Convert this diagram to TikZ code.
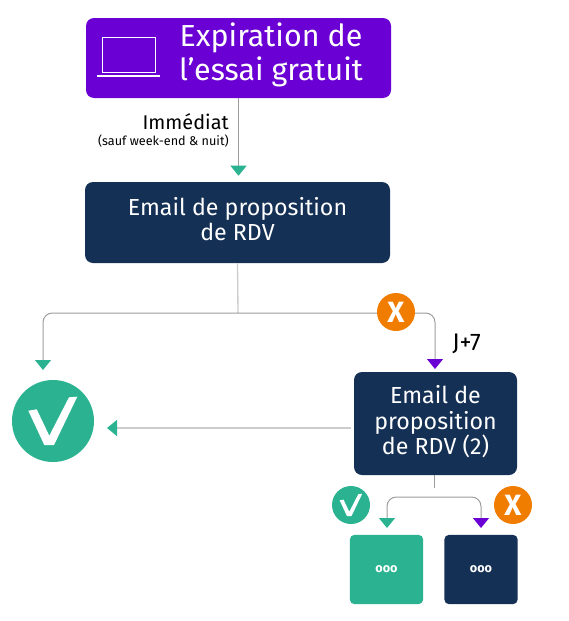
\documentclass[tikz,border=0pt]{standalone}
\usepackage{xcolor}
\usepackage{fontspec}
\setmainfont{Fira Sans}
\usetikzlibrary{arrows.meta, positioning}
\definecolor{essaipurple}{HTML}{6A00D4}
\definecolor{essainavy}{HTML}{153055}
\definecolor{essaigreen}{HTML}{2BB391}
\definecolor{essaiorange}{HTML}{F07D00}
\definecolor{essaigrey}{HTML}{9C9C9C}
\definecolor{essailight}{HTML}{CCCCCC}

\begin{document}
\begin{tikzpicture}[x=0.75pt, y=-0.75pt,
  boxtxt/.style={align=center, text=white, inner sep=0pt},
  box/.style={rounded corners=6pt, boxtxt, font=\fontsize{17.4}{19}\selectfont},
  title/.style={box, fill=essaipurple, minimum width=228.75pt, minimum height=60pt},
  mail/.style={box, fill=essainavy, minimum width=228.75pt, minimum height=60.75pt, text depth=5pt},
  mailb/.style={box, fill=essainavy, minimum width=122.25pt, minimum height=77.25pt, text depth=5pt},
  endbox/.style={rounded corners=3.5pt, boxtxt, minimum width=55pt, minimum height=52pt, font=\bfseries\fontsize{9.5}{9.5}\selectfont},
  badge/.style={circle, fill=essaiorange, boxtxt, minimum size=28.5pt, font=\bfseries\fontsize{22}{22}\selectfont},
  okdisc/.style={circle, fill=essaigreen, inner sep=0pt},
  lab/.style={inner sep=0pt, align=right},
  tog/.style={-{Triangle[width=12pt, length=7.5pt, color=essaigreen]}},
  top/.style={-{Triangle[width=12pt, length=7.5pt, color=essaipurple]}},
  wire/.style={draw=essaigrey, line width=0.75pt},
  wirel/.style={draw=essailight, line width=1pt},
  okmark/.pic={\fill[white] (-24.7,-10.3) -- (-16.3,-11.7) -- (-3.7,14.7) -- (16,-23.7) -- (24.3,-24.3) -- (1,24) -- (-8.7,24) -- cycle;}
]
\useasboundingbox (0,0) rectangle (568,621);

% boxes
\node[title] (expire) at (238.5,58) {};
\node[boxtxt, font=\fontsize{22.8}{25}\selectfont] (expiretxt) at (271,55) {Expiration de\\l’essai gratuit};
\node[mail] (mail1) at (237.5,222.5) {Email de proposition\\de RDV};
\node[mailb] (mail2) at (435.5,423.5) {Email de\\proposition\\de RDV (2)};
\node[endbox, fill=essaigreen] (next1) at (386.5,569.5) {ooo};
\node[endbox, fill=essainavy] (next2) at (481,569.5) {ooo};

% laptop
\draw[white, line width=0.75pt] (102,37) rectangle (155,72);
\draw[white, line width=1.2pt] (97,76) -- (160,76);

% valid discs
\node[okdisc, minimum size=61.5pt] (valid) at (53,421) {};
\pic at (valid) {okmark};
\node[okdisc, minimum size=28.5pt] (validb) at (351,505) {};
\pic[scale=0.46] at (validb) {okmark};

% connectors
\coordinate (fork) at (238,313);
\coordinate (validin) at (43,370);
\coordinate (mail2in) at (435,369);
\coordinate (validout) at (107,428);
\coordinate (mail2out) at (351,428);
\coordinate (stem) at (434,488);
\coordinate (forkb) at (434,497);
\coordinate (next1in) at (387,528);
\coordinate (next2in) at (481,528);

\draw[wire, tog, shorten >=4.5pt] (expire.south) -- (expire.south |- mail1.north);
\draw[wirel] (mail1.south) -- (fork);
\draw[wire, tog, rounded corners=7pt] (fork) -| (validin);
\draw[wire, top, rounded corners=7pt] (fork) -| (mail2in);
\draw[wirel, tog] (mail2out) -- (validout);
\draw[wire] (mail2.south -| stem) -- (stem);
\draw[wire, tog, rounded corners=7pt] (forkb) -| (next1in);
\draw[wire, top, rounded corners=7pt] (forkb) -| (next2in);

% badges
\node[badge] (no1) at (396,312) {X};
\node[badge] (no2) at (513,505) {X};

% labels
\node[lab, anchor=east, font=\fontsize{14.9}{14.9}\selectfont] (imm) at (229,122) {Immédiat};
\node[lab, anchor=east, font=\fontsize{9.5}{9.5}\selectfont] (sauf) at (229,141) {(sauf week-end \& nuit)};
\node[lab, anchor=west, font=\fontsize{18}{18}\selectfont] (j7) at (452,344) {J+7};
\end{tikzpicture}
\end{document}
